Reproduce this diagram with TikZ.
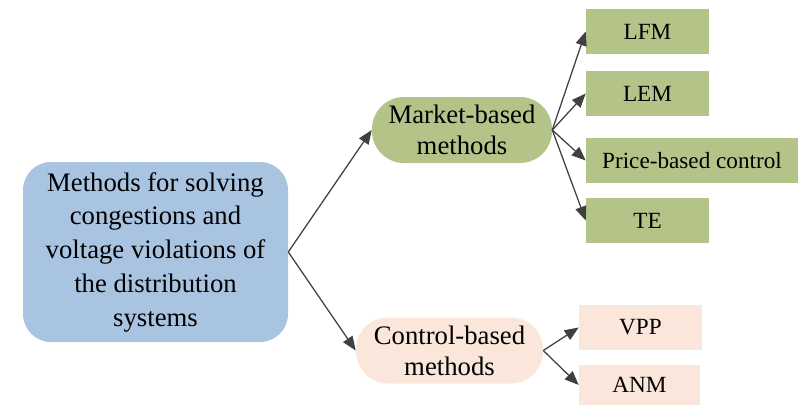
\documentclass[tikz,border=0pt]{standalone}
\usepackage{fontspec}
\setmainfont{Liberation Serif}
\usepackage{xcolor}
\usetikzlibrary{arrows.meta, positioning, calc}
\definecolor{matblue}{HTML}{A9C4E0}
\definecolor{matgreen}{HTML}{B4C388}
\definecolor{matpeach}{HTML}{FAE6DA}
\definecolor{arrgray}{HTML}{404040}
\tikzset{
  % Graph arrow style
  garr/.style={
    line width = 0.9pt
    , draw=arrgray
    , -{Triangle[length=10pt, width=8pt]}
  },
}
\tikzset{
  %root node style
  mainbox/.style={
    fill=matblue
    , anchor=center
    , align=center
    , rounded corners=0.7cm
    , minimum width=6.625cm
    , minimum height=4.5cm
    , font=\fontsize{19}{24}\selectfont
  },
}
\tikzset{
  %group node style (pill)
  grpbox/.style={
    anchor=center
    , align=center
    , rounded corners=0.8cm
    , minimum height=1.65cm
    , font=\fontsize{19}{22}\selectfont
  },
}
\tikzset{
  %leaf node style
  leafbox/.style={
    anchor=center
    , text centered
    , minimum width=3.075cm
    , minimum height=1.125cm
    , font=\fontsize{16.5}{19}\selectfont
  },
}

\begin{document}
\begin{tikzpicture}
  \useasboundingbox (0,0) rectangle (20,10.15);
  % root
  \node[mainbox] (root) at (3.8875,3.85)
    {Methods for solving\\congestions and\\voltage violations of\\the distribution\\systems};
  % groups
  \node[grpbox, fill=matgreen, minimum width=4.5cm] (market) at (11.55,6.9)
    {Market-based\\methods};
  \node[grpbox, fill=matpeach, minimum width=4.675cm] (control) at (11.2375,1.3875)
    {Control-based\\methods};
  % market leaves
  \node[leafbox, fill=matgreen] (lfm) at (16.1875,9.3625) {LFM};
  \node[leafbox, fill=matgreen] (lem) at (16.1875,7.8125) {LEM};
  \node[leafbox, fill=matgreen, minimum width=5.3cm] (price) at (17.3,6.1375) {Price-based control};
  \node[leafbox, fill=matgreen] (te) at (16.1875,4.6375) {TE};
  % control leaves
  \node[leafbox, fill=matpeach] (vpp) at (16.0125,1.9625) {VPP};
  \node[leafbox, fill=matpeach, minimum width=3.025cm, minimum height=1cm] (anm) at (15.9875,0.525) {ANM};

  \draw[garr] (root.east) to (market.west);
  \draw[garr] (root.east) to (control.west);
  \draw[garr] (market.east) to (lfm.west);
  \draw[garr] (market.east) to (lem.west);
  \draw[garr] (market.east) to (price.west);
  \draw[garr] (market.east) to (te.west);
  \draw[garr] (control.east) to (vpp.west);
  \draw[garr] (control.east) to (anm.west);
\end{tikzpicture}
\end{document}
